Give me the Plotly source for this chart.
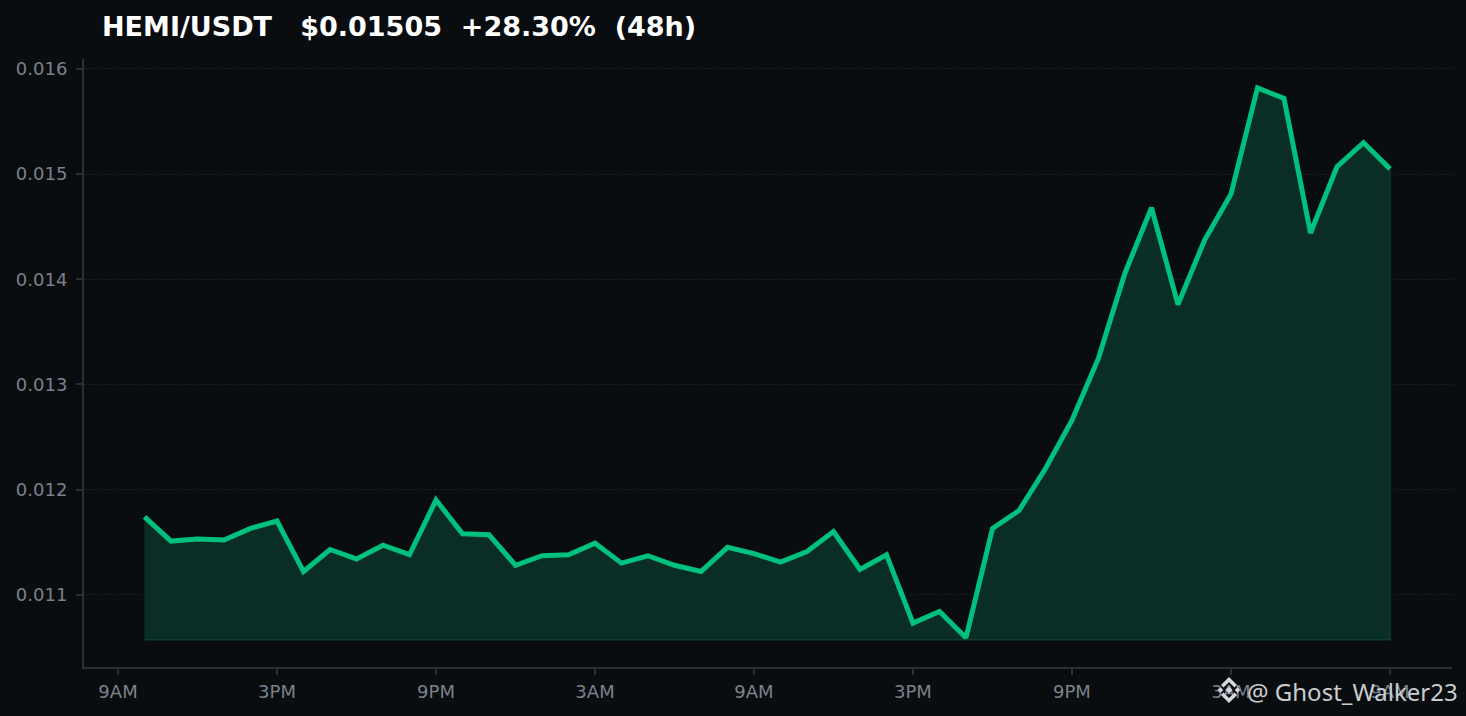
import plotly.graph_objects as go

# hours since the first 9AM tick
hours = list(range(1, 49))
prices = [
    0.01174, 0.01151, 0.01153, 0.01152, 0.01163, 0.01170, 0.01122, 0.01143,
    0.01134, 0.01147, 0.01138, 0.01190, 0.01158, 0.01157, 0.01128, 0.01137,
    0.01138, 0.01149, 0.01130, 0.01137, 0.01128, 0.01122, 0.01145, 0.01139,
    0.01131, 0.01141, 0.01160, 0.01124, 0.01138, 0.01073, 0.01084, 0.01059,
    0.01163, 0.01180, 0.01220, 0.01266, 0.01325, 0.01406, 0.01468, 0.01376,
    0.01437, 0.01481, 0.01582, 0.01572, 0.01444, 0.01507, 0.01530, 0.01505,
]
fill_base = 0.01057

x_ticks = [0, 6, 12, 18, 24, 30, 36, 42, 48]
x_labels = ["9AM", "3PM", "9PM", "3AM", "9AM", "3PM", "9PM", "3AM", "9AM"]
y_ticks = [0.011, 0.012, 0.013, 0.014, 0.015, 0.016]

title_text = "HEMI/USDT   $0.01505  +28.30%  (48h)"
watermark = "@ Ghost_Walker23"

BG = "#0a0d10"
GREEN = "#00c07f"
SPINE = "#2a2e35"
TICK_TEXT = "#7c818a"
W, H = 1466, 716
LEFT, RIGHT, TOP, BOTTOM = 84, 14, 59, 49


# paper coordinates count from the plot area, not the page
def paper_x(px):
    return (px - LEFT) / (W - LEFT - RIGHT)


def paper_y(py):
    return 1 - (py - TOP) / (H - TOP - BOTTOM)


def logo_piece(pts):
    path = "M " + " L ".join(f"{paper_x(x):.5f},{paper_y(y):.5f}" for x, y in pts) + " Z"
    return dict(type="path", xref="paper", yref="paper", path=path,
                fillcolor="#d6d8da", line=dict(width=0), layer="above")


def diamond(cx, cy, r):
    return logo_piece([(cx, cy - r), (cx + r, cy), (cx, cy + r), (cx - r, cy)])


fig = go.Figure()

# area under the line, closed along the base value
fig.add_trace(go.Scatter(
    x=hours + hours[::-1],
    y=prices + [fill_base] * len(hours),
    mode="lines",
    fill="toself",
    fillcolor="#0a2e26",
    line=dict(color="#0e3d31", width=1.5),
    hoverinfo="skip",
    showlegend=False,
))
fig.add_trace(go.Scatter(
    x=hours, y=prices, mode="lines",
    line=dict(color=GREEN, width=5),
    showlegend=False,
))

fig.update_layout(
    width=W, height=H,
    margin=dict(l=LEFT, r=RIGHT, t=TOP, b=BOTTOM),
    paper_bgcolor=BG,
    plot_bgcolor=BG,
    font=dict(family="DejaVu Sans", color=TICK_TEXT, size=18),
    title=dict(
        text=f"<b>{title_text}</b>",
        x=102 / W, xanchor="left",
        y=1 - 27 / H, yanchor="middle",
        font=dict(family="DejaVu Sans", size=27, color="#ffffff"),
    ),
    annotations=[dict(
        text=watermark, xref="paper", yref="paper",
        x=paper_x(1460), xanchor="right",
        y=paper_y(691), yanchor="middle",
        showarrow=False,
        font=dict(family="Noto Sans", size=24, color="#c9cccf"),
    )],
    shapes=[
        diamond(1229, 690, 3.5),
        logo_piece([(1229, 677), (1237, 685), (1234.5, 687.5), (1229, 682), (1223.5, 687.5), (1221, 685)]),
        logo_piece([(1229, 703), (1237, 695), (1234.5, 692.5), (1229, 698), (1223.5, 692.5), (1221, 695)]),
        diamond(1220.5, 690, 2.8),
        diamond(1237.5, 690, 2.8),
    ],
)
fig.update_xaxes(
    range=[-1.283, 50.34],
    tickvals=x_ticks, ticktext=x_labels,
    showgrid=False, zeroline=False,
    showline=True, linecolor=SPINE, linewidth=2,
    ticks="outside", tickcolor=SPINE, tickwidth=2, ticklen=6,
    ticklabelstandoff=1,
)
fig.update_yaxes(
    range=[0.010312, 0.016095],
    tickvals=y_ticks, tickformat=".3f",
    showgrid=True, gridcolor="#191d21", griddash="3px,2px", gridwidth=1,
    zeroline=False,
    showline=True, linecolor=SPINE, linewidth=2,
    ticks="outside", tickcolor=SPINE, tickwidth=2, ticklen=6,
    ticklabelstandoff=5,
)

fig.write_html("out.html", config=dict(displayModeBar=False),
               post_script="document.body.style.margin='0';")
